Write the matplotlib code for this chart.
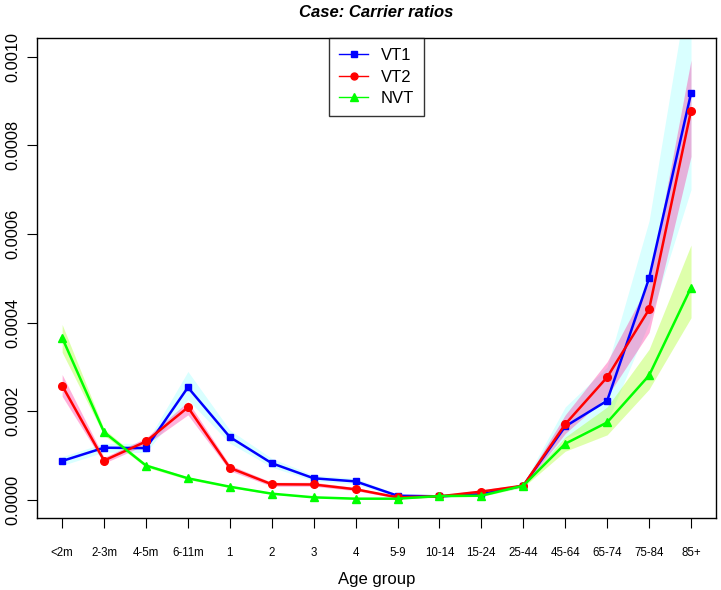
import numpy as np
import matplotlib.pyplot as plt
from matplotlib.lines import Line2D

plt.rcParams['font.family'] = ['Liberation Sans', 'DejaVu Sans']

# age groups and carrier ratios
age_groups = ['<2m', '2-3m', '4-5m', '6-11m', '1', '2', '3', '4', '5-9',
              '10-14', '15-24', '25-44', '45-64', '65-74', '75-84', '85+']

vt1 = [0.0000880, 0.000118, 0.000117, 0.000254, 0.000142, 0.000083, 0.000049,
       0.000042, 0.0000097, 0.0000083, 0.000013, 0.0000324, 0.000166,
       0.000224, 0.000500, 0.000917]
vt1_lo = [0.000078, 0.000108, 0.000107, 0.000226, 0.000128, 0.000074, 0.000043,
          0.000036, 0.000007, 0.000006, 0.000010, 0.000028, 0.000140,
          0.000175, 0.000400, 0.000700]
vt1_hi = [0.000098, 0.000128, 0.000128, 0.000290, 0.000158, 0.000094, 0.000056,
          0.000049, 0.000013, 0.000011, 0.000017, 0.000037, 0.000210,
          0.000300, 0.000630, 0.001200]

vt2 = [0.000258, 0.000089, 0.000132, 0.000209, 0.0000725, 0.0000355, 0.0000350,
       0.0000242, 0.000006, 0.0000083, 0.000019, 0.0000324, 0.000171,
       0.000277, 0.000430, 0.000878]
vt2_lo = [0.000234, 0.000083, 0.000125, 0.000192, 0.000066, 0.000031, 0.000031,
          0.000021, 0.000004, 0.000006, 0.000015, 0.000029, 0.000150,
          0.000234, 0.000378, 0.000775]
vt2_hi = [0.000283, 0.000096, 0.000140, 0.000222, 0.000079, 0.000040, 0.000040,
          0.000028, 0.000008, 0.000011, 0.000023, 0.000036, 0.000192,
          0.000312, 0.000490, 0.000992]

nvt = [0.000366, 0.000153, 0.0000777, 0.000049, 0.000030, 0.0000143, 0.000006,
       0.000003, 0.000003, 0.000009, 0.0000097, 0.0000324, 0.000127,
       0.000175, 0.000281, 0.000479]
nvt_lo = [0.000333, 0.000146, 0.000074, 0.000046, 0.000028, 0.000013, 0.000005,
          0.000002, 0.000002, 0.000007, 0.000008, 0.000029, 0.000110,
          0.000147, 0.000250, 0.000411]
nvt_hi = [0.000396, 0.000160, 0.000082, 0.000052, 0.000032, 0.000016, 0.000007,
          0.000004, 0.000004, 0.000011, 0.000012, 0.000036, 0.000142,
          0.000210, 0.000340, 0.000575]

x = np.arange(len(age_groups))

fig = plt.figure(figsize=(7.21, 5.90), dpi=100)
ax = fig.add_axes([0.0513, 0.122, 0.942, 0.8136])

# bands then lines, in drawing order like the original
ax.fill_between(x, vt1_lo, vt1_hi, color='#00FFFF', alpha=0.15, linewidth=0)
ax.plot(x, vt1, color='#0000FF', lw=1.8, marker='s', ms=5)
ax.fill_between(x, vt2_lo, vt2_hi, color='#FF1493', alpha=0.33, linewidth=0)
ax.plot(x, vt2, color='#FF0000', lw=1.8, marker='o', ms=5.5)
ax.fill_between(x, nvt_lo, nvt_hi, color='#ADFF2F', alpha=0.4, linewidth=0)
ax.plot(x, nvt, color='#00FF00', lw=1.8, marker='^', ms=6)

ax.set_xlim(-0.6, 15.6)
ax.set_ylim(-0.0000406, 0.001042)

ax.set_xticks(x)
ax.set_xticklabels(age_groups, fontsize=8.3)
ax.tick_params(axis='x', direction='out', length=7, pad=14)
ax.set_yticks([0.0, 0.0002, 0.0004, 0.0006, 0.0008, 0.0010])
ax.set_yticklabels(['0.0000', '0.0002', '0.0004', '0.0006', '0.0008', '0.0010'],
                   fontsize=11.8, rotation=90, va='center')
ax.tick_params(axis='y', direction='out', length=7, pad=5)

for s in ax.spines.values():
    s.set_linewidth(1.0)

ax.set_xlabel('Age group', fontsize=12, labelpad=9)
ax.set_title('Case: Carrier ratios', fontsize=12, fontweight='bold',
             fontstyle='italic', pad=15)

handles = [Line2D([], [], color='#0000FF', lw=1, marker='s', ms=5),
           Line2D([], [], color='#FF0000', lw=1, marker='o', ms=5),
           Line2D([], [], color='#00FF00', lw=1, marker='^', ms=5.5)]
leg = ax.legend(handles, ['VT1', 'VT2', 'NVT'], loc='upper center',
                bbox_to_anchor=(0.5, 1.0), fontsize=12, frameon=True,
                fancybox=False, edgecolor='black', handlelength=1.75,
                handletextpad=0.75, borderpad=0.6, labelspacing=0.4,
                borderaxespad=0)
leg.get_frame().set_linewidth(1.0)

fig.savefig('out.png', dpi=100)
